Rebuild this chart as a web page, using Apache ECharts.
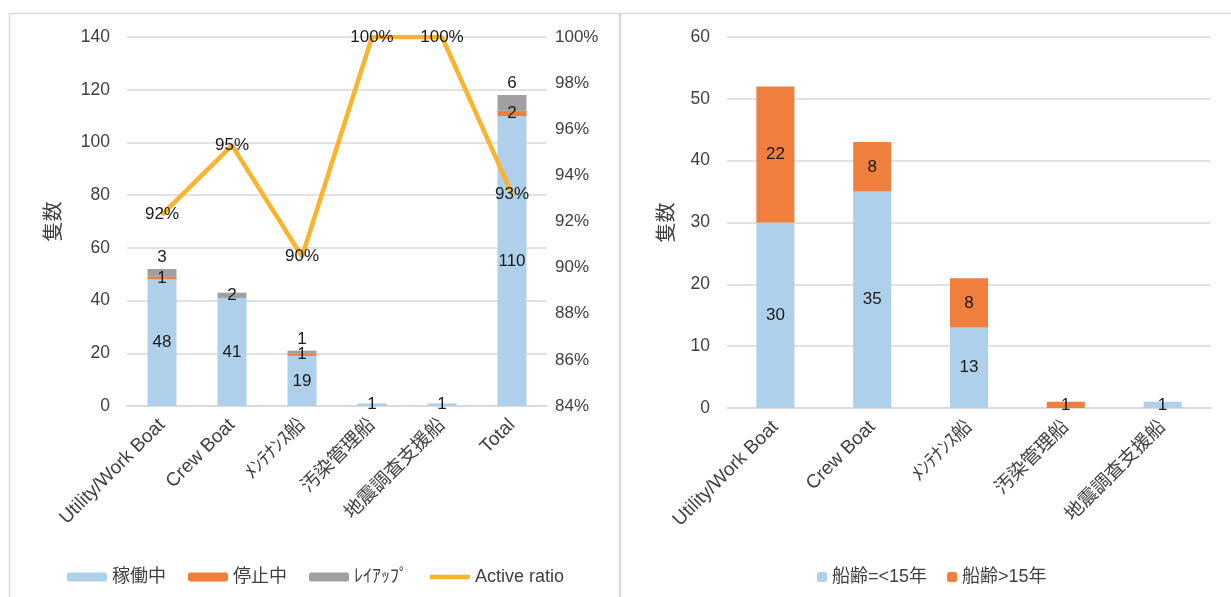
<!DOCTYPE html>
<html><head><meta charset="utf-8">
<script src="https://cdn.jsdelivr.net/npm/echarts@6/dist/echarts.min.js"></script>
<style>html,body{margin:0;padding:0;background:#fff}#c{width:1231px;height:597px}</style>
</head><body><div id="c"></div>
<script>
// ---- data (left chart) ----
const leftCategories = ['Utility/Work Boat', 'Crew Boat', 'ﾒﾝﾃﾅﾝｽ船', '汚染管理船', '地震調査支援船', 'Total'];
const active = [48, 41, 19, 1, 1, 110];
const stopped = [1, 0, 1, 0, 0, 2];
const layup = [3, 2, 1, 0, 0, 6];
const activeRatio = [0.923, 0.953, 0.9048, 1.0, 1.0, 0.932];
const leftTicks = [0, 20, 40, 60, 80, 100, 120, 140];
// ---- data (right chart) ----
const rightCategories = ['Utility/Work Boat', 'Crew Boat', 'ﾒﾝﾃﾅﾝｽ船', '汚染管理船', '地震調査支援船'];
const ageUnder15 = [30, 35, 13, 0, 1];
const ageOver15 = [22, 8, 8, 1, 0];

const FONT = "'Liberation Sans', 'Noto Sans CJK JP', sans-serif";
const TXT = '#404040';
const BLUE = '#AED0EA', ORANGE = '#F07E3C', GRAY = '#A0A0A0', GOLD = '#FBB42C';
const GRID = '#D9D9D9';
const lbl = (extra) => Object.assign({show: true, position: 'inside', color: '#1a1a1a', fontSize: 17, fontFamily: FONT,
  formatter: p => p.value === 0 ? '' : String(p.value)}, extra || {});

const layupPos = ['top', 'inside', 'top', 'inside', 'inside', 'top'];

const chart = echarts.init(document.getElementById('c'), null, {renderer: 'canvas'});
chart.setOption({
  animation: false,
  textStyle: {fontFamily: FONT},
  graphic: [
    {type: 'rect', shape: {x: 9.5, y: 13.5, width: 610, height: 600}, style: {fill: 'none', stroke: GRID, lineWidth: 1.5}, silent: true},
    {type: 'rect', shape: {x: 620.5, y: 13.5, width: 620, height: 600}, style: {fill: 'none', stroke: GRID, lineWidth: 1.5}, silent: true}
  ],
  grid: [
    {left: 127, right: 1231 - 547, top: 37, bottom: 597 - 406, containLabel: false},
    {left: 727, right: 1231 - 1211, top: 37, bottom: 597 - 408, containLabel: false}
  ],
  legend: [
    {left: 62, top: 563, itemWidth: 40, itemHeight: 9, itemGap: 22, textStyle: {fontSize: 18, color: TXT, fontFamily: FONT},
     data: ['稼働中', '停止中', 'ﾚｲｱｯﾌﾟ', {name: 'Active ratio', icon: 'path://M0,0 L40,0 L40,4.5 L0,4.5 Z', itemStyle: {color: GOLD, opacity: 1}}],
     selectedMode: false},
    {left: 812, top: 563, itemWidth: 10, itemHeight: 10, itemGap: 20, textStyle: {fontSize: 18, color: TXT, fontFamily: FONT},
     data: ['船齢=<15年', '船齢>15年'], selectedMode: false}
  ],
  xAxis: [
    {type: 'category', gridIndex: 0, data: leftCategories, axisTick: {show: false},
     axisLine: {lineStyle: {color: GRID, width: 1.5}},
     axisLabel: {interval: 0, rotate: 45, color: TXT, fontSize: 19, fontFamily: FONT, margin: 16}},
    {type: 'category', gridIndex: 1, data: rightCategories, axisTick: {show: false},
     axisLine: {lineStyle: {color: GRID, width: 1.5}},
     axisLabel: {interval: 0, rotate: 45, color: TXT, fontSize: 19, fontFamily: FONT, margin: 16}}
  ],
  yAxis: [
    {type: 'value', gridIndex: 0, min: leftTicks[0], max: leftTicks[leftTicks.length - 1], interval: 20,
     name: '隻数', nameLocation: 'middle', nameGap: 63, nameRotate: 90,
     nameTextStyle: {fontSize: 20, color: TXT, fontFamily: FONT},
     axisLine: {show: false}, axisTick: {show: false},
     splitLine: {lineStyle: {color: GRID, width: 1.5}},
     axisLabel: {color: TXT, fontSize: 17.5, fontFamily: FONT, margin: 17}},
    {type: 'value', gridIndex: 0, position: 'right', min: 0.84, max: 1.0, interval: 0.02,
     axisLine: {show: false}, axisTick: {show: false}, splitLine: {show: false},
     axisLabel: {color: TXT, fontSize: 17, fontFamily: FONT, margin: 8, formatter: v => Math.round(v * 100) + '%'}},
    {type: 'value', gridIndex: 1, min: 0, max: 60, interval: 10,
     name: '隻数', nameLocation: 'middle', nameGap: 50, nameRotate: 90,
     nameTextStyle: {fontSize: 20, color: TXT, fontFamily: FONT},
     axisLine: {show: false}, axisTick: {show: false},
     splitLine: {lineStyle: {color: GRID, width: 1.5}},
     axisLabel: {color: TXT, fontSize: 17.5, fontFamily: FONT, margin: 17}}
  ],
  series: [
    {name: '稼働中', type: 'bar', stack: 'L', xAxisIndex: 0, yAxisIndex: 0, barWidth: 29,
     itemStyle: {color: BLUE}, label: lbl(), data: active},
    {name: '停止中', type: 'bar', stack: 'L', xAxisIndex: 0, yAxisIndex: 0, barWidth: 29,
     itemStyle: {color: ORANGE}, label: lbl(), data: stopped},
    {name: 'ﾚｲｱｯﾌﾟ', type: 'bar', stack: 'L', xAxisIndex: 0, yAxisIndex: 0, barWidth: 29,
     itemStyle: {color: GRAY}, label: lbl({distance: 3}),
     data: layup.map((v, i) => ({value: v, label: {position: layupPos[i]}}))},
    {name: 'Active ratio', type: 'line', xAxisIndex: 0, yAxisIndex: 1, symbol: 'circle', symbolSize: 2,
     showSymbol: true, z: 5,
     lineStyle: {color: GOLD, width: 4.5}, itemStyle: {color: GOLD},
     label: {show: true, position: 'inside', color: '#1a1a1a', fontSize: 17, fontFamily: FONT,
       formatter: p => Math.round(p.value * 100) + '%'},
     labelLayout: {hideOverlap: false},
     data: activeRatio},
    {name: '船齢=<15年', type: 'bar', stack: 'R', xAxisIndex: 1, yAxisIndex: 2, barWidth: 38,
     itemStyle: {color: BLUE}, label: lbl(), data: ageUnder15},
    {name: '船齢>15年', type: 'bar', stack: 'R', xAxisIndex: 1, yAxisIndex: 2, barWidth: 38,
     itemStyle: {color: ORANGE}, label: lbl(), data: ageOver15}
  ]
});
</script></body></html>
